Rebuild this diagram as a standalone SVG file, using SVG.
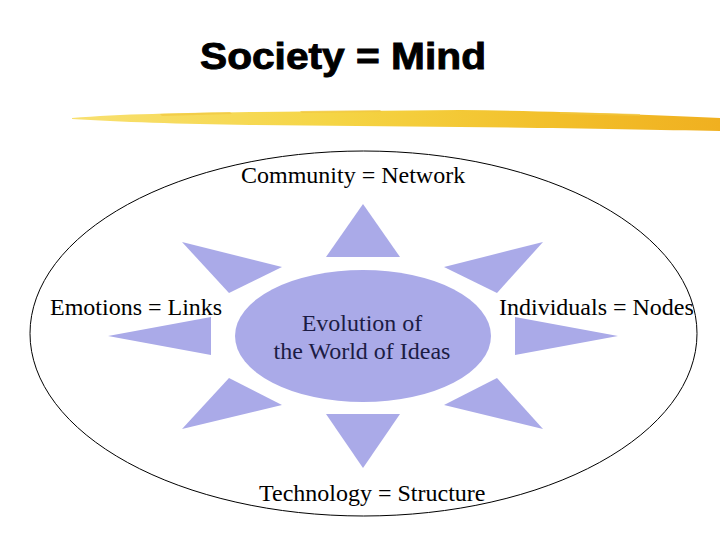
<svg xmlns="http://www.w3.org/2000/svg" width="720" height="540" viewBox="0 0 720 540">
  <style>
    .lbl { font-family: "Liberation Serif", "Times New Roman", serif; font-size: 24px; fill: #000; }
    .ctr { font-family: "Liberation Serif", "Times New Roman", serif; font-size: 24px; fill: #1c1c44; text-anchor: middle; }
    .ray { fill: #aaaae8; }
    .title { font-family: "Liberation Sans", Arial, sans-serif; font-size: 37px; font-weight: bold; fill: #000; stroke: #000; stroke-width: 0.9px; }
  </style>
  <defs>
    <linearGradient id="brush" x1="0" y1="0" x2="1" y2="0">
      <stop offset="0" stop-color="#f8e070"/>
      <stop offset="0.4" stop-color="#f5d545"/>
      <stop offset="0.75" stop-color="#f2bf2a"/>
      <stop offset="1" stop-color="#f0b020"/>
    </linearGradient>
  </defs>
  <rect width="720" height="540" fill="#ffffff"/>

  <g id="title">
    <text class="title" x="200" y="69" textLength="286" lengthAdjust="spacingAndGlyphs">Society = Mind</text>
  </g>

  <g id="brush-stroke">
    <path d="M72,118 C120,114 180,113 250,112 L460,110 C560,111 650,115 720,118 L720,131 C650,130 560,128 460,127 L250,125 C180,124 120,122 72,119 Z" fill="url(#brush)"/>
    <path d="M160,114 L230,112 L232,114 L162,116 Z M300,111 L380,110 L382,112 L302,113 Z M560,112 L640,114 L640,116 L560,114 Z" fill="#f1c840" opacity="0.7"/>
  </g>

  <g id="outer">
    <ellipse cx="363.5" cy="333.5" rx="333.5" ry="182.5" fill="none" stroke="#000" stroke-width="1"/>
  </g>

  <g id="rays">
    <polygon class="ray" points="363,204 326,257 400,257"/>
    <polygon class="ray" points="363,468 326,414 400,414"/>
    <polygon class="ray" points="182,242 282,267 229,293"/>
    <polygon class="ray" points="543,242 444,267 497,293"/>
    <polygon class="ray" points="108,336 211,317 211,355"/>
    <polygon class="ray" points="618,336 515,317 515,355"/>
    <polygon class="ray" points="182,429 282,405 229,378"/>
    <polygon class="ray" points="543,429 444,405 497,378"/>
  </g>

  <g id="center">
    <ellipse cx="363" cy="336" rx="128" ry="66" fill="#aaaae8"/>
    <text class="ctr" x="362" y="331">Evolution of</text>
    <text class="ctr" x="362" y="359">the World of Ideas</text>
  </g>

  <g id="community"><text class="lbl" x="241" y="183">Community = Network</text></g>
  <g id="emotions"><text class="lbl" x="50" y="315">Emotions = Links</text></g>
  <g id="individuals"><text class="lbl" x="499" y="315">Individuals = Nodes</text></g>
  <g id="technology"><text class="lbl" x="259" y="501">Technology = Structure</text></g>

  <g id="connectors"></g>
</svg>
